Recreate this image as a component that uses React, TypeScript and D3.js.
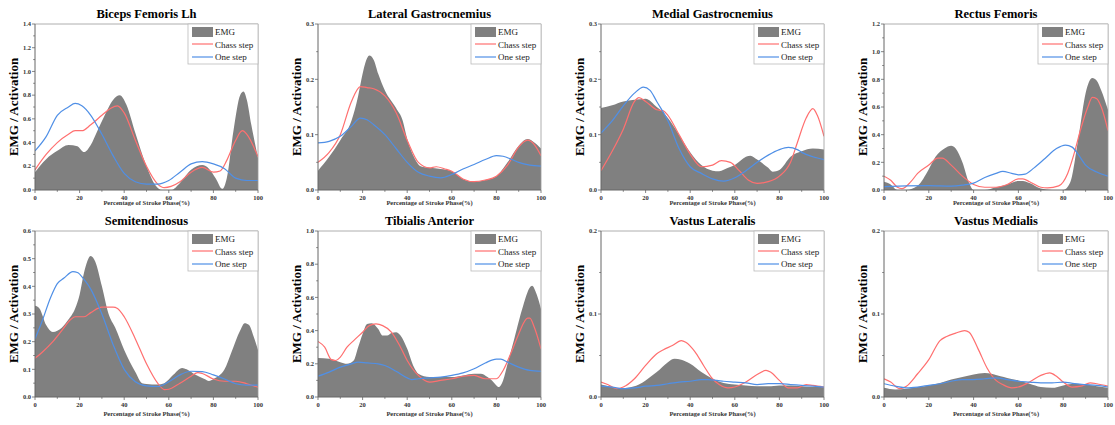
import React from "react";
import * as d3 from "d3";

type P = [number, number];

// ---- Biceps Femoris Lh ----
const bfEMG: P[] = [[0,0.15],[5,0.26],[10,0.33],[15,0.38],[19,0.37],[22,0.32],[25,0.38],[28,0.5],[31,0.62],[35,0.76],[38,0.8],[41,0.72],[45,0.48],[50,0.2],[54,0.04],[57,0.0],[61,0.0],[65,0.06],[70,0.17],[75,0.21],[78,0.18],[81,0.1],[84,0.01],[86,0.1],[89,0.5],[92,0.8],[93.5,0.83],[95,0.76],[97,0.55],[100,0.27]];
const bfChass: P[] = [[0,0.17],[5,0.3],[10,0.4],[15,0.47],[18,0.5],[21,0.5],[25,0.55],[30,0.63],[34,0.69],[37,0.71],[40,0.65],[45,0.42],[50,0.2],[55,0.05],[58,0.02],[61,0.03],[65,0.07],[70,0.15],[75,0.19],[80,0.15],[83,0.16],[86,0.25],[90,0.42],[93,0.5],[95,0.47],[100,0.28]];
const bfOne: P[] = [[0,0.33],[5,0.45],[10,0.63],[15,0.7],[18,0.73],[21,0.71],[25,0.63],[30,0.47],[35,0.29],[40,0.14],[45,0.07],[50,0.05],[55,0.05],[60,0.08],[65,0.15],[70,0.22],[75,0.24],[80,0.22],[85,0.18],[90,0.1],[95,0.08],[100,0.08]];

// ---- Lateral Gastrocnemius ----
const lgEMG: P[] = [[0,0.035],[5,0.06],[10,0.09],[15,0.125],[18,0.17],[20,0.21],[22,0.238],[23,0.243],[25,0.235],[27,0.21],[30,0.18],[35,0.148],[38,0.125],[40,0.092],[43,0.06],[46,0.043],[50,0.04],[55,0.038],[60,0.034],[65,0.02],[70,0.015],[75,0.018],[80,0.025],[85,0.05],[90,0.08],[94,0.092],[97,0.086],[100,0.075]];
const lgChass: P[] = [[0,0.05],[5,0.068],[10,0.1],[15,0.16],[19,0.187],[22,0.185],[25,0.183],[30,0.17],[35,0.14],[40,0.09],[45,0.05],[50,0.04],[53,0.042],[57,0.038],[60,0.034],[65,0.02],[70,0.015],[75,0.018],[80,0.025],[85,0.045],[90,0.078],[94,0.09],[97,0.082],[100,0.062]];
const lgOne: P[] = [[0,0.085],[5,0.088],[10,0.097],[15,0.115],[19,0.13],[22,0.127],[25,0.118],[30,0.1],[35,0.075],[40,0.05],[45,0.032],[50,0.025],[55,0.022],[60,0.028],[65,0.038],[70,0.046],[75,0.055],[80,0.062],[83,0.061],[87,0.055],[90,0.05],[95,0.045],[100,0.043]];

// ---- Medial Gastrocnemius ----
const mgEMG: P[] = [[0,0.148],[5,0.153],[10,0.16],[15,0.163],[20,0.165],[25,0.15],[28,0.14],[30,0.13],[35,0.1],[40,0.068],[45,0.045],[50,0.035],[53,0.034],[57,0.04],[60,0.045],[65,0.06],[67,0.062],[70,0.055],[75,0.04],[77,0.033],[80,0.036],[85,0.06],[90,0.07],[95,0.075],[100,0.073]];
const mgChass: P[] = [[0,0.035],[5,0.07],[10,0.11],[15,0.16],[17,0.167],[20,0.16],[25,0.145],[28,0.143],[30,0.135],[35,0.1],[40,0.065],[45,0.042],[50,0.045],[54,0.053],[58,0.05],[62,0.035],[66,0.018],[70,0.012],[75,0.015],[80,0.025],[85,0.05],[88,0.085],[92,0.13],[95,0.147],[97,0.135],[100,0.097]];
const mgOne: P[] = [[0,0.103],[5,0.125],[10,0.152],[15,0.175],[19,0.186],[22,0.18],[25,0.16],[30,0.125],[35,0.075],[40,0.042],[45,0.03],[50,0.02],[55,0.016],[60,0.022],[65,0.035],[70,0.05],[75,0.063],[80,0.073],[84,0.077],[88,0.073],[90,0.068],[95,0.06],[100,0.055]];

// ---- Rectus Femoris ----
const rfEMG: P[] = [[0,0.06],[3,0.04],[6,0.0],[10,0.0],[15,0.03],[20,0.15],[23,0.24],[27,0.3],[30,0.32],[32,0.3],[35,0.2],[38,0.05],[40,0.0],[45,0.0],[50,0.02],[55,0.04],[60,0.065],[62,0.065],[65,0.05],[70,0.01],[75,0.0],[80,0.0],[83,0.05],[87,0.4],[90,0.7],[93,0.81],[95,0.79],[97,0.72],[100,0.58]];
const rfChass: P[] = [[0,0.1],[3,0.07],[6,0.02],[8,0.01],[12,0.06],[15,0.12],[20,0.18],[24,0.23],[26,0.23],[30,0.18],[35,0.1],[40,0.04],[45,0.02],[50,0.02],[55,0.04],[60,0.08],[62,0.08],[65,0.06],[70,0.02],[73,0.015],[78,0.03],[82,0.12],[85,0.27],[88,0.45],[91,0.6],[93,0.67],[95,0.66],[97,0.6],[100,0.43]];
const rfOne: P[] = [[0,0.025],[10,0.03],[20,0.032],[30,0.028],[35,0.035],[40,0.05],[45,0.09],[50,0.12],[53,0.135],[57,0.12],[60,0.11],[63,0.115],[67,0.16],[72,0.23],[77,0.3],[81,0.325],[84,0.31],[87,0.25],[90,0.18],[95,0.13],[100,0.1]];

// ---- Semitendinosus ----
const stEMG: P[] = [[0,0.33],[2,0.32],[5,0.26],[8,0.235],[12,0.25],[15,0.28],[18,0.32],[20,0.37],[22,0.45],[25,0.51],[27,0.49],[30,0.4],[33,0.3],[36,0.25],[40,0.17],[45,0.09],[48,0.05],[50,0.047],[55,0.045],[58,0.05],[62,0.08],[66,0.105],[68,0.1],[72,0.08],[76,0.065],[78,0.058],[80,0.065],[85,0.1],[88,0.16],[92,0.24],[94,0.267],[96,0.26],[98,0.22],[100,0.17]];
const stChass: P[] = [[0,0.14],[3,0.16],[8,0.2],[12,0.24],[16,0.28],[18,0.29],[22,0.29],[25,0.305],[30,0.325],[35,0.325],[37,0.32],[40,0.29],[45,0.21],[50,0.12],[55,0.05],[58,0.027],[60,0.028],[65,0.05],[70,0.075],[73,0.088],[75,0.085],[80,0.065],[85,0.057],[90,0.057],[95,0.048],[100,0.035]];
const stOne: P[] = [[0,0.21],[3,0.27],[7,0.36],[10,0.41],[13,0.43],[17,0.453],[19,0.45],[22,0.425],[25,0.39],[30,0.3],[35,0.19],[40,0.1],[45,0.055],[50,0.04],[55,0.038],[60,0.055],[65,0.08],[70,0.093],[75,0.092],[80,0.08],[85,0.065],[90,0.048],[95,0.043],[100,0.043]];

// ---- Tibialis Anterior ----
const taEMG: P[] = [[0,0.235],[5,0.23],[10,0.21],[13,0.2],[16,0.22],[18,0.3],[20,0.38],[22,0.44],[24,0.445],[27,0.41],[29,0.37],[31,0.37],[33,0.385],[35,0.39],[37,0.37],[40,0.29],[43,0.18],[45,0.14],[50,0.12],[55,0.12],[60,0.12],[65,0.13],[70,0.14],[73,0.14],[76,0.12],[78,0.1],[80,0.07],[81,0.06],[83,0.1],[85,0.2],[88,0.35],[92,0.55],[95,0.66],[96,0.67],[98,0.62],[100,0.53]];
const taChass: P[] = [[0,0.335],[3,0.3],[6,0.225],[8,0.22],[10,0.24],[13,0.3],[16,0.34],[20,0.39],[23,0.43],[26,0.44],[29,0.43],[33,0.39],[37,0.3],[40,0.22],[45,0.13],[50,0.09],[55,0.1],[60,0.11],[65,0.125],[70,0.13],[75,0.11],[80,0.11],[83,0.16],[87,0.28],[90,0.38],[94,0.475],[95,0.475],[97,0.42],[100,0.29]];
const taOne: P[] = [[0,0.125],[5,0.15],[10,0.18],[15,0.2],[18,0.21],[22,0.205],[27,0.2],[30,0.19],[35,0.155],[40,0.115],[42,0.105],[45,0.11],[50,0.115],[55,0.12],[60,0.13],[65,0.145],[70,0.17],[75,0.205],[80,0.228],[82,0.228],[85,0.21],[90,0.18],[95,0.16],[100,0.155]];

// ---- Vastus Lateralis ----
const vlEMG: P[] = [[0,0.015],[5,0.012],[8,0.01],[12,0.011],[17,0.015],[20,0.02],[25,0.03],[30,0.042],[33,0.046],[36,0.045],[40,0.04],[45,0.03],[50,0.022],[55,0.017],[60,0.015],[65,0.014],[70,0.013],[75,0.013],[80,0.014],[85,0.014],[90,0.013],[95,0.012],[100,0.012]];
const vlChass: P[] = [[0,0.018],[3,0.015],[7,0.01],[10,0.012],[15,0.022],[20,0.038],[25,0.052],[28,0.057],[32,0.062],[36,0.068],[38,0.066],[42,0.055],[46,0.038],[50,0.022],[53,0.015],[57,0.011],[60,0.012],[65,0.018],[70,0.027],[74,0.032],[76,0.03],[80,0.02],[84,0.011],[88,0.011],[92,0.015],[95,0.014],[100,0.012]];
const vlOne: P[] = [[0,0.013],[5,0.012],[10,0.01],[15,0.011],[20,0.013],[25,0.014],[30,0.016],[35,0.018],[40,0.019],[45,0.021],[48,0.021],[52,0.02],[55,0.019],[60,0.018],[65,0.017],[70,0.015],[75,0.016],[80,0.016],[85,0.015],[90,0.014],[95,0.013],[100,0.012]];

// ---- Vastus Medialis ----
const vmEMG: P[] = [[0,0.011],[5,0.009],[10,0.01],[15,0.012],[20,0.014],[25,0.017],[30,0.021],[35,0.024],[40,0.027],[45,0.029],[48,0.028],[52,0.025],[55,0.023],[60,0.02],[65,0.016],[70,0.012],[75,0.011],[80,0.014],[85,0.016],[90,0.015],[95,0.013],[100,0.011]];
const vmChass: P[] = [[0,0.022],[3,0.018],[7,0.01],[10,0.013],[15,0.028],[20,0.045],[25,0.068],[28,0.073],[32,0.077],[36,0.08],[38,0.078],[42,0.058],[46,0.035],[50,0.02],[53,0.015],[57,0.011],[60,0.012],[65,0.018],[70,0.026],[74,0.029],[77,0.025],[80,0.018],[84,0.012],[88,0.013],[92,0.017],[95,0.016],[100,0.013]];
const vmOne: P[] = [[0,0.016],[5,0.013],[10,0.011],[15,0.012],[20,0.014],[25,0.016],[30,0.019],[35,0.021],[40,0.021],[45,0.022],[50,0.023],[55,0.021],[60,0.019],[65,0.018],[70,0.017],[75,0.017],[80,0.018],[85,0.016],[90,0.015],[95,0.014],[100,0.012]];

const titles = ["Biceps Femoris Lh", "Lateral Gastrocnemius", "Medial Gastrocnemius", "Rectus Femoris", "Semitendinosus", "Tibialis Anterior", "Vastus Lateralis", "Vastus Medialis"];
const yMaxes = [1.4, 0.3, 0.3, 1.2, 0.6, 1.0, 0.2, 0.2];
const ySteps = [0.2, 0.1, 0.1, 0.2, 0.1, 0.2, 0.1, 0.1];
const emgSeries = [bfEMG, lgEMG, mgEMG, rfEMG, stEMG, taEMG, vlEMG, vmEMG];
const chassSeries = [bfChass, lgChass, mgChass, rfChass, stChass, taChass, vlChass, vmChass];
const oneSeries = [bfOne, lgOne, mgOne, rfOne, stOne, taOne, vlOne, vmOne];
const xTicks = [0, 20, 40, 60, 80, 100];
const legendLabels = ["EMG", "Chass step", "One step"];

const W = 1115, H = 425;
const FONT = "'Liberation Serif', 'Times New Roman', serif";
const GRAY = "#808080";
const RED = "#ff6f6f";
const BLUE = "#4f8fe6";

function Panel({ i }: { i: number }) {
  const col = i % 4, row = Math.floor(i / 4);
  const left = 35 + col * 283;
  const width = col === 3 ? 224 : 223;
  const top = row === 0 ? 24 : 231;
  const height = 166;
  const xTitleOff = row === 0 ? 15 : 19;
  const x = d3.scaleLinear().domain([0, 100]).range([left, left + width]);
  const y = d3.scaleLinear().domain([0, yMaxes[i]]).range([top + height, top]);
  const step = ySteps[i];
  const nMaj = Math.round(yMaxes[i] / step);
  const yMajor = d3.range(nMaj + 1).map((k) => k * step);
  const yMinor = d3.range(nMaj).map((k) => (k + 0.5) * step);
  const xMinor = [10, 30, 50, 70, 90];
  const area = d3.area<P>().x((d) => x(d[0])).y0(y(0)).y1((d) => y(Math.max(0, d[1]))).curve(d3.curveMonotoneX);
  const line = d3.line<P>().x((d) => x(d[0])).y((d) => y(d[1])).curve(d3.curveMonotoneX);
  const clipId = `clip${i}`;
  const lx = left + width - 70, ly = top;
  const fmt = d3.format(".1f");
  return (
    <g>
      <defs>
        <clipPath id={clipId}>
          <rect x={left} y={top} width={width} height={height} />
        </clipPath>
      </defs>
      <text x={left + width / 2} y={top - 6} textAnchor="middle" fontFamily={FONT} fontWeight="bold" fontSize={12.5}>{titles[i]}</text>
      <g clipPath={`url(#${clipId})`}>
        <path d={area(emgSeries[i]) || ""} fill={GRAY} />
        <path d={line(chassSeries[i]) || ""} fill="none" stroke={RED} strokeWidth={1.2} />
        <path d={line(oneSeries[i]) || ""} fill="none" stroke={BLUE} strokeWidth={1.2} />
      </g>
      {/* frame */}
      <line x1={left} x2={left + width} y1={top} y2={top} stroke="#999" strokeWidth={0.8} />
      <line x1={left + width} x2={left + width} y1={top} y2={top + height} stroke="#999" strokeWidth={0.8} />
      <line x1={left} x2={left} y1={top} y2={top + height} stroke="#666" strokeWidth={1} />
      <line x1={left} x2={left + width} y1={top + height} y2={top + height} stroke="#666" strokeWidth={1} />
      {yMajor.map((v) => (
        <g key={"ym" + v}>
          <line x1={left - 3} x2={left} y1={y(v)} y2={y(v)} stroke="#666" strokeWidth={0.8} />
          <text x={left - 4} y={y(v) + 2.2} textAnchor="end" fontFamily={FONT} fontWeight="bold" fontSize={6.5} fill="#333">{fmt(v)}</text>
        </g>
      ))}
      {yMinor.map((v) => (
        <line key={"yn" + v} x1={left - 1.8} x2={left} y1={y(v)} y2={y(v)} stroke="#666" strokeWidth={0.8} />
      ))}
      {xTicks.map((v) => (
        <g key={"xm" + v}>
          <line x1={x(v)} x2={x(v)} y1={top + height} y2={top + height + 3} stroke="#666" strokeWidth={0.8} />
          <text x={x(v)} y={top + height + 9.5} textAnchor="middle" fontFamily={FONT} fontWeight="bold" fontSize={6.5} fill="#333">{v}</text>
        </g>
      ))}
      {xMinor.map((v) => (
        <line key={"xn" + v} x1={x(v)} x2={x(v)} y1={top + height} y2={top + height + 1.8} stroke="#666" strokeWidth={0.8} />
      ))}
      <text x={left + width / 2} y={top + height + xTitleOff} textAnchor="middle" fontFamily={FONT} fontWeight="bold" fontSize={6.5} fill="#333">Percentage of Stroke Phase(%)</text>
      <text transform={`translate(${left - 20},${top + height / 2}) rotate(-90)`} textAnchor="middle" dominantBaseline="middle" fontFamily={FONT} fontWeight="bold" fontSize={13}>EMG / Activation</text>
      {/* legend */}
      <rect x={lx} y={ly} width={70} height={40} fill="white" stroke="#bbb" strokeWidth={0.8} />
      <rect x={lx + 4} y={ly + 3} width={21} height={10} fill={GRAY} />
      <line x1={lx + 4} x2={lx + 25} y1={ly + 20} y2={ly + 20} stroke={RED} strokeWidth={1.2} />
      <line x1={lx + 4} x2={lx + 25} y1={ly + 33} y2={ly + 33} stroke={BLUE} strokeWidth={1.2} />
      {legendLabels.map((t, k) => (
        <text key={t} x={lx + 27} y={ly + 11 + k * 12.5} fontFamily={FONT} fontSize={9} fill="#222">{t}</text>
      ))}
    </g>
  );
}

export default function App() {
  return (
    <svg width={W} height={H} style={{ position: "absolute", left: 0, top: 0, background: "white" }}>
      <rect width={W} height={H} fill="white" />
      {titles.map((_, i) => (
        <Panel key={i} i={i} />
      ))}
    </svg>
  );
}
